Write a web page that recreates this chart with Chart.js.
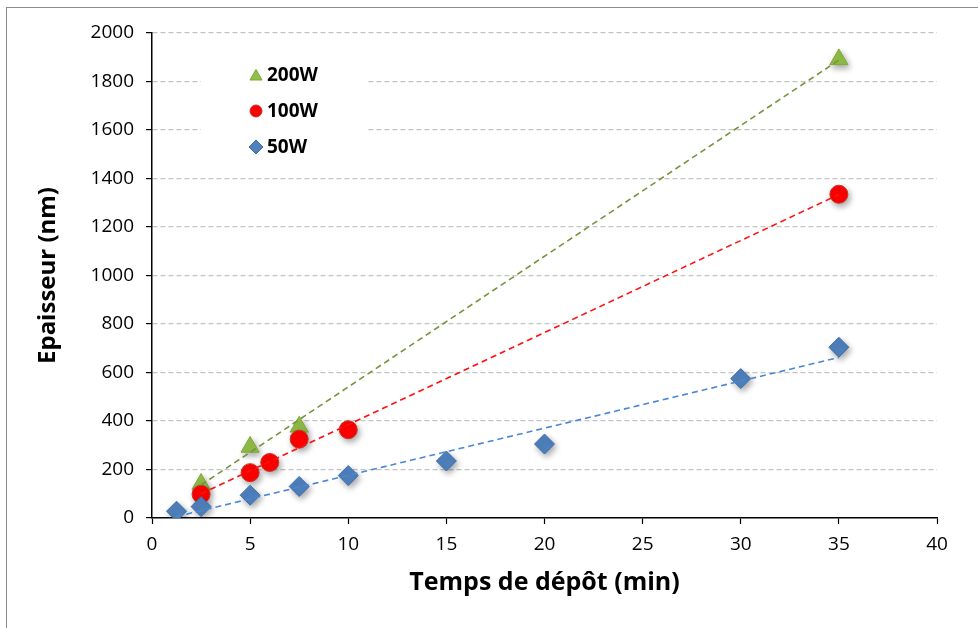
<!DOCTYPE html>
<html>
<head>
<meta charset="utf-8">
<script src="https://cdn.jsdelivr.net/npm/chart.js@4/dist/chart.umd.min.js"></script>
<style>
    html, body { margin: 0; padding: 0; background: #fff; }
    #wrap { position: relative; width: 978px; height: 628px; overflow: hidden; }
    #frame {
        position: absolute; left: 6px; top: 7px; width: 1000px; height: 700px;
        border-left: 1px solid #8c8c8c; border-top: 1px solid #8c8c8c;
    }
    canvas { position: absolute; left: 0; top: 0; }
</style>
</head>
<body>
<div id="wrap">
    <div id="frame"></div>
    <canvas id="chart" width="978" height="628"></canvas>
</div>
<script>
// Epaisseur vs temps de dépôt, 3 puissances

const time50 = [1.25, 2.5, 5, 7.5, 10, 15, 20, 30, 35];
const thick50 = [28, 47, 94, 130, 175, 235, 305, 575, 704];

const time100 = [2.5, 5, 6, 7.5, 10, 35];
const thick100 = [98, 187, 229, 325, 364, 1335];

const time200 = [2.5, 5, 7.5, 35];
const thick200 = [140, 293, 376, 1891];

// trend line end points
const trend50X = [1.25, 35];
const trend50Y = [6, 662];
const trend100X = [2.5, 35];
const trend100Y = [100, 1334];
const trend200X = [2.5, 35];
const trend200Y = [136, 1888];

const legendLabels = ['200W', '100W', '50W'];

function toPoints(xs, ys) {
    return xs.map((x, i) => ({ x: x, y: ys[i] }));
}

function trendSet(xs, ys, color) {
    return {
        label: 'trend',
        data: toPoints(xs, ys),
        showLine: true,
        borderColor: color,
        borderWidth: 1.6,
        borderDash: [6, 4],
        pointRadius: 0,
        fill: false,
        isTrend: true
    };
}

const series = [
    { label: '50W', data: toPoints(time50, thick50), pointStyle: 'rectRot', radius: 10, fill: '#4F81BD', border: '#3E6DA6' },
    { label: '100W', data: toPoints(time100, thick100), pointStyle: 'circle', radius: 9, fill: '#FF0000', border: '#C0392B' },
    { label: '200W', data: toPoints(time200, thick200), pointStyle: 'triangle', radius: 10.5, fill: '#92C046', border: '#7FA63A' }
];

// shadow under the markers
const shadowPlugin = {
    id: 'markerShadow',
    beforeDatasetDraw(chart, args) {
        const ds = chart.data.datasets[args.index];
        chart.ctx.save();
        if (!ds.isTrend) {
            chart.ctx.shadowColor = 'rgba(0,0,0,0.35)';
            chart.ctx.shadowBlur = 6;
            chart.ctx.shadowOffsetX = 2;
            chart.ctx.shadowOffsetY = 3;
        }
    },
    afterDatasetDraw(chart) {
        chart.ctx.restore();
    }
};

function drawMarker(ctx, style, x, y, r, fill, stroke) {
    ctx.beginPath();
    if (style === 'triangle') {
        ctx.moveTo(x, y - r);
        ctx.lineTo(x + r * 0.866, y + r * 0.5);
        ctx.lineTo(x - r * 0.866, y + r * 0.5);
        ctx.closePath();
    } else if (style === 'circle') {
        ctx.arc(x, y, r, 0, Math.PI * 2);
    } else {
        ctx.moveTo(x - r, y);
        ctx.lineTo(x, y - r);
        ctx.lineTo(x + r, y);
        ctx.lineTo(x, y + r);
        ctx.closePath();
    }
    ctx.fillStyle = fill;
    ctx.fill();
    ctx.lineWidth = 1;
    ctx.strokeStyle = stroke;
    ctx.stroke();
}

// legend inside the plot, top left
const legendPlugin = {
    id: 'innerLegend',
    beforeDatasetsDraw(chart) {
        const ctx = chart.ctx;
        ctx.save();
        ctx.fillStyle = '#fff';
        ctx.fillRect(201, 45, 165, 120);
        const order = [series[2], series[1], series[0]];
        const rows = [75, 111, 147];
        ctx.font = 'bold 19px "Open Sans"';
        ctx.textBaseline = 'middle';
        order.forEach((s, i) => {
            const y = rows[i];
            const r = s.pointStyle === 'circle' ? 6 : 7;
            drawMarker(ctx, s.pointStyle, 256, y + (s.pointStyle === 'triangle' ? 1.5 : 0), r, s.fill, s.border);
            ctx.fillStyle = '#000';
            ctx.fillText(legendLabels[i], 267, y + 1);
        });
        ctx.restore();
    }
};

const datasets = [
    trendSet(trend50X, trend50Y, '#4A86D4'),
    trendSet(trend100X, trend100Y, '#FF1010'),
    trendSet(trend200X, trend200Y, '#77933C')
].concat(series.map(s => ({
    label: s.label,
    data: s.data,
    pointStyle: s.pointStyle,
    pointRadius: s.radius,
    pointHoverRadius: s.radius,
    backgroundColor: s.fill,
    borderColor: s.border,
    pointBorderWidth: 1,
    showLine: false
})));

Chart.defaults.font.family = '"Open Sans", sans-serif';
Chart.defaults.color = '#000';

new Chart(document.getElementById('chart'), {
    type: 'scatter',
    data: { datasets: datasets },
    plugins: [shadowPlugin, legendPlugin],
    options: {
        responsive: false,
        animation: false,
        events: [],
        layout: { padding: { top: 33, right: 41, bottom: 0, left: 0 } },
        plugins: {
            legend: { display: false },
            tooltip: { enabled: false }
        },
        scales: {
            x: {
                type: 'linear',
                min: 0,
                max: 40,
                ticks: { stepSize: 5, padding: 9, font: { size: 19 }, color: '#000', callback: v => String(v) },
                grid: { drawOnChartArea: false, tickLength: 6, tickColor: '#000', tickWidth: 1.2 },
                border: { color: '#000', width: 1.5 },
                title: {
                    display: true,
                    text: 'Temps de dépôt (min)',
                    font: { size: 25, weight: 'bold' },
                    color: '#000',
                    padding: { top: 0, bottom: 30 }
                },
                afterFit(scale) { scale.height = 110; }
            },
            y: {
                type: 'linear',
                min: 0,
                max: 2000,
                ticks: { stepSize: 200, padding: 12, font: { size: 19 }, color: '#000', callback: v => String(v) },
                grid: {
                    color: ctx => ctx.tick && ctx.tick.value === 0 ? 'rgba(0,0,0,0)' : '#c4c4c4',
                    lineWidth: 1.2,
                    tickLength: 6,
                    tickColor: '#000',
                    tickWidth: 1.2,
                    tickBorderDash: []
                },
                border: { color: '#000', width: 1.5, dash: [5, 3] },
                title: {
                    display: true,
                    text: 'Epaisseur (nm)',
                    font: { size: 24, weight: 'bold' },
                    color: '#000',
                    padding: { top: 34, bottom: 0 }
                },
                afterFit(scale) { scale.width = 152; }
            }
        }
    }
});
</script>
</body>
</html>
